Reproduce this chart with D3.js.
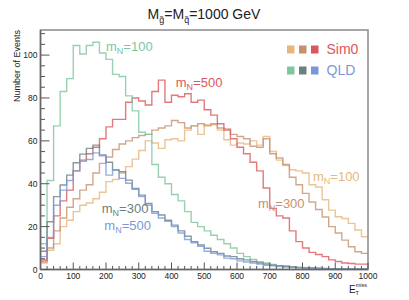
<html>
<head>
<script src="https://d3js.org/d3.v7.min.js"></script>
<style>
    body { margin: 0; background: #fff; }
    text { font-family: "Liberation Sans", Arial, sans-serif; }
</style>
</head>
<body>
<svg id="chart" width="409" height="300"></svg>
<script>
    // 50 bins of 20 GeV, lower edges
    var binLow = d3.range(0, 1000, 20);

    // Sim0 histograms
    var sim0_100 = [3, 9, 12, 20, 23, 27, 30, 31, 33, 36, 41, 42, 45, 48, 51.5, 55.5, 60, 59, 56.5, 60.5,
        61, 60, 65, 67, 63, 67.5, 67.5, 65, 60.5, 58, 59, 58.5, 60, 58, 62, 55, 51, 48.5, 46.5, 46,
        45, 39.5, 38.5, 32.5, 27.7, 24.6, 23.8, 21.5, 18.4, 15.3];
    var sim0_300 = [3.6, 10, 18, 24, 29, 33, 37, 39.5, 45, 49.5, 52.5, 56, 58.5, 60, 61.5, 62.5, 63, 65, 66, 67,
        69.5, 68.5, 66, 67, 68, 67, 68, 66, 65.5, 63, 62, 61, 57.5, 57, 61, 54, 52, 49, 43, 39.5,
        35.5, 31.5, 28, 24.5, 20, 17, 13.7, 10.6, 8.3, 7.5];
    var sim0_500 = [4.4, 14.5, 25, 32, 37, 46, 51, 54, 57, 61, 66.5, 70, 70, 78, 80, 78.6, 76.7, 83, 88.3, 78,
        81.3, 80.6, 82, 78, 79, 74.5, 72, 68, 65, 61, 57, 54, 50, 46, 38, 28.5, 25, 24, 18, 13,
        10, 8, 7, 6, 4.5, 3.7, 3, 2.8, 2.5, 2.5];

    // QLD histograms
    var qld_100 = [12, 41.5, 67, 83, 89, 104.5, 100.5, 104.5, 106, 101, 98, 91, 90, 81, 74, 64, 63, 49, 43, 40,
        35, 32, 27, 22, 20, 18, 16, 14, 12, 10, 7.5, 6, 4.7, 3.6, 3, 2.3, 1.8, 1.5, 1.2, 1,
        0.8, 0.6, 0.5, 0.4, 0.3, 0.2, 0.2, 0.2, 0.2, 0.2];
    var qld_300 = [8.5, 22.3, 34, 39.4, 44, 49.8, 53.8, 56.5, 58, 53.4, 50, 46.4, 45.6, 41.7, 37.8, 34.7, 30.8, 27, 25.4, 23,
        20.7, 18, 15.5, 13, 11.4, 9.9, 8.3, 7.5, 6.3, 6, 5, 4.5, 3.7, 3, 2.5, 2, 1.8, 1.5, 1.2, 1,
        0.8, 0.7, 0.6, 0.5, 0.4, 0.4, 0.3, 0.3, 0.2, 0.2];
    var qld_500 = [6, 15, 30, 37, 41.5, 46, 50.5, 51.3, 54.4, 53, 44, 46.4, 42.5, 40.2, 37.4, 34, 30, 26.2, 24, 22.5,
        20, 17, 14, 12.5, 10.8, 8.5, 7.5, 6.8, 5.3, 5, 4, 3.5, 3, 2.5, 2, 1.7, 1.4, 1.2, 1, 0.8,
        0.7, 0.6, 0.5, 0.4, 0.3, 0.3, 0.2, 0.2, 0.2, 0.1];

    var xTicks = [0, 100, 200, 300, 400, 500, 600, 700, 800, 900, 1000];
    var yTicks = [0, 20, 40, 60, 80, 100];

    var series = [
        { values: sim0_100, color: "#e6b77c", label: "100", lx: 832, ly: 41.4 },
        { values: sim0_300, color: "#c6916f", label: "300", lx: 664, ly: 28.5 },
        { values: sim0_500, color: "#d9575d", label: "500", lx: 413, ly: 85 },
        { values: qld_100, color: "#7ec69e", label: "100", lx: 200, ly: 101.9 },
        { values: qld_300, color: "#6b8083", label: "300", lx: 187, ly: 26.3 },
        { values: qld_500, color: "#7a98d9", label: "500", lx: 195, ly: 18.4 }
    ];

    var svg = d3.select("#chart");
    var x = d3.scaleLinear().domain([0, 1000]).range([40.5, 368]);
    var y = d3.scaleLinear().domain([0, 111.7]).range([269.5, 30]);

    // title
    var title = svg.append("text")
        .attr("x", 204).attr("y", 19)
        .attr("text-anchor", "middle")
        .style("font-size", "14px").attr("fill", "#222");
    title.append("tspan").text("M");
    title.append("tspan").attr("dy", 4).style("font-size", "9px").text("g\u0303");
    title.append("tspan").attr("dy", -4).text("=M");
    title.append("tspan").attr("dy", 4).style("font-size", "9px").text("q\u0303");
    title.append("tspan").attr("dy", -4).text("=1000 GeV");

    // histograms
    var line = d3.line()
        .x(function (d) { return x(d[0]); })
        .y(function (d) { return y(d[1]); })
        .curve(d3.curveStepAfter);

    series.forEach(function (s) {
        var pts = binLow.map(function (b, i) { return [b, s.values[i]]; });
        pts.push([1000, s.values[s.values.length - 1]]);
        svg.append("path")
            .attr("d", line(pts))
            .attr("fill", "none")
            .attr("stroke", s.color)
            .attr("stroke-width", 1.4)
            .attr("stroke-opacity", 0.8);
    });

    // frame
    svg.append("rect")
        .attr("x", x(0)).attr("y", y(111.7))
        .attr("width", x(1000) - x(0)).attr("height", y(0) - y(111.7))
        .attr("fill", "none").attr("stroke", "#8a8a8a").attr("stroke-width", 1.5);

    // x axis ticks (inside)
    var xAxis = svg.append("g").attr("transform", "translate(0," + y(0) + ")");
    xAxis.selectAll(".minor").data(d3.range(0, 1001, 20)).enter().append("line")
        .attr("x1", function (d) { return x(d); }).attr("x2", function (d) { return x(d); })
        .attr("y1", 0).attr("y2", function (d) { return d % 100 === 0 ? -7 : -3.5; })
        .attr("stroke", "#555").attr("stroke-width", 1);
    xAxis.selectAll(".lab").data(xTicks).enter().append("text")
        .attr("x", function (d) { return x(d); }).attr("y", 9)
        .attr("text-anchor", "middle")
        .style("font-size", "8.5px").attr("fill", "#222")
        .text(function (d) { return d; });
    xAxis.append("line").attr("x1", x(0)).attr("x2", x(1000))
        .attr("stroke", "#666").attr("stroke-width", 1.5);

    // y axis ticks (inside)
    var yAxis = svg.append("g").attr("transform", "translate(" + x(0) + ",0)");
    yAxis.selectAll(".minor").data(d3.range(0, 111, 5)).enter().append("line")
        .attr("y1", function (d) { return y(d); }).attr("y2", function (d) { return y(d); })
        .attr("x1", 0).attr("x2", function (d) { return d % 20 === 0 ? 9 : 4.5; })
        .attr("stroke", "#555").attr("stroke-width", 1);
    yAxis.selectAll(".lab").data(yTicks).enter().append("text")
        .attr("x", -3).attr("y", function (d) { return y(d) + 3; })
        .attr("text-anchor", "end")
        .style("font-size", "8.5px").attr("fill", "#222")
        .text(function (d) { return d; });
    yAxis.append("line").attr("y1", y(0)).attr("y2", y(111.7))
        .attr("stroke", "#666").attr("stroke-width", 1.5);

    // axis titles
    svg.append("text")
        .attr("transform", "translate(20,30) rotate(-90)")
        .attr("text-anchor", "end")
        .style("font-size", "9px").attr("fill", "#222")
        .text("Number of Events");
    var xt = svg.append("text").attr("x", 349).attr("y", 293)
        .style("font-size", "10px").attr("fill", "#222");
    xt.append("tspan").text("E");
    xt.append("tspan").attr("dy", -6.5).style("font-size", "5.5px").text("miss");
    xt.append("tspan").attr("x", 355.5).attr("dy", 8).style("font-size", "5.5px").text("T");

    // curve labels
    series.forEach(function (s) {
        var t = svg.append("text")
            .attr("x", x(s.lx)).attr("y", y(s.ly))
            .style("font-size", "13px").attr("fill", s.color);
        t.append("tspan").text("m");
        t.append("tspan").attr("dy", 3).style("font-size", "9px").text("N");
        t.append("tspan").attr("dy", -3).text("=" + s.label);
    });

    // legend
    var legendRows = [
        { text: "Sim0", cols: [series[0].color, series[1].color, series[2].color], tc: series[2].color, y: 45.5 },
        { text: "QLD", cols: [series[3].color, series[4].color, series[5].color], tc: series[5].color, y: 66.5 }
    ];
    legendRows.forEach(function (r) {
        r.cols.forEach(function (c, i) {
            svg.append("rect")
                .attr("x", 287 + i * 12).attr("y", r.y)
                .attr("width", 7.5).attr("height", 8)
                .attr("fill", c);
        });
        svg.append("text")
            .attr("x", 326.5).attr("y", r.y + 8.5)
            .style("font-size", "14px").attr("fill", r.tc)
            .text(r.text);
    });
</script>
</body>
</html>
